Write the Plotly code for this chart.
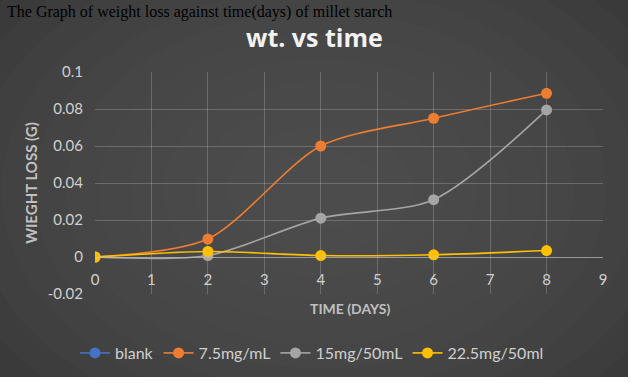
import plotly.graph_objects as go

days = [0, 2, 4, 6, 8]
blank = [0, None, None, None, None]
s75 = [0, 0.0097, 0.060, 0.075, 0.0885]
s15 = [0, 0.0008, 0.021, 0.031, 0.0795]
s225 = [0, 0.003, 0.0008, 0.0012, 0.0035]
series_names = ["blank", "7.5mg/mL", "15mg/50mL", "22.5mg/50ml"]
series_vals = [blank, s75, s15, s225]
colors = ["#4472c4", "#ed7d31", "#a5a5a5", "#ffc000"]
y_ticks = [-0.02, 0, 0.02, 0.04, 0.06, 0.08, 0.1]
y_labels = ["-0.02", "0", "0.02", "0.04", "0.06", "0.08", "0.1"]
x_ticks = list(range(0, 10))

W, H = 631, 383
L, R, T, B = 95, 28, 72, 89
pw, ph = W - L - R, H - T - B

def px(x):
    return (x - L) / pw

def py(y):
    return (H - B - y) / ph

fig = go.Figure()
for name, vals, c in zip(series_names, series_vals, colors):
    fig.add_trace(go.Scatter(
        x=days, y=vals, name=name, mode="lines+markers",
        line=dict(color=c, width=1.6, shape="spline", smoothing=0.8),
        marker=dict(color=c, size=11, line=dict(width=0)),
    ))

shapes = []
# radial-ish gradient background
n = 14
for i in range(n):
    f = i / (n - 1)
    rx = 420 * (1 - f) + 60
    ry = 300 * (1 - f) + 40
    cx, cy = 320, 190
    shapes.append(dict(
        type="circle", xref="paper", yref="paper", layer="below",
        x0=px(cx - rx), x1=px(cx + rx), y0=py(cy + ry), y1=py(cy - ry),
        fillcolor="rgba(82,82,82,0.13)", line=dict(width=0),
    ))
# white frame strips
shapes.append(dict(type="rect", xref="paper", yref="paper", layer="above",
                   x0=px(628), x1=px(640), y0=py(390), y1=py(-10),
                   fillcolor="white", line=dict(width=0)))
shapes.append(dict(type="rect", xref="paper", yref="paper", layer="above",
                   x0=px(-10), x1=px(640), y0=py(390), y1=py(377),
                   fillcolor="white", line=dict(width=0)))

fig.update_layout(
    width=W, height=H,
    margin=dict(l=L, r=R, t=T, b=B, autoexpand=False),
    paper_bgcolor="#2f2f2f",
    plot_bgcolor="rgba(0,0,0,0)",
    shapes=shapes,
    showlegend=True,
    legend=dict(orientation="h", x=px(75), xanchor="left", y=py(353), yanchor="middle",
                font=dict(family="Lato", size=16, color="#d0d0d0"),
                bgcolor="rgba(0,0,0,0)", tracegroupgap=0),
    xaxis=dict(range=[0, 9], tickvals=x_ticks, showgrid=True, automargin=False,
               gridcolor="rgba(200,200,200,0.28)", gridwidth=1,
               zeroline=False, showline=True, linecolor="rgba(200,200,200,0.5)",
               anchor="free", position=py(257), ticks="", ticklabelstandoff=9,
               tickfont=dict(family="Lato", size=15, color="#d0d0d0")),
    yaxis=dict(range=[-0.02, 0.1], tickvals=y_ticks, ticktext=y_labels, automargin=False,
               showgrid=True, gridcolor="rgba(200,200,200,0.28)", gridwidth=1,
               zeroline=False, showline=False, ticks="", ticklabelstandoff=11,
               tickfont=dict(family="Lato", size=15, color="#d0d0d0"),
               title=dict(text="<b>WIEGHT LOSS (G)</b>", standoff=6,
                          font=dict(family="Lato", size=15, color="#c0c0c0"))),
    annotations=[
        dict(text="The Graph of weight loss against time(days) of millet starch",
             xref="paper", yref="paper", x=px(5), y=py(1), xanchor="left", yanchor="top",
             showarrow=False, font=dict(family="Liberation Serif", size=16, color="#000000")),
        dict(text="<b>wt. vs time</b>", xref="paper", yref="paper",
             x=px(314), y=py(37), xanchor="center", yanchor="middle", showarrow=False,
             font=dict(family="Open Sans", size=25, color="#f2f2f2")),
        dict(text="<b>TIME (DAYS)</b>", xref="paper", yref="paper",
             x=px(350), y=py(308), xanchor="center", yanchor="middle", showarrow=False,
             font=dict(family="Lato", size=14, color="#c0c0c0")),
    ],
)

fig.write_html("out.html", config={"displayModeBar": False},
               post_script="document.body.style.margin='0';document.body.style.overflow='hidden';")
